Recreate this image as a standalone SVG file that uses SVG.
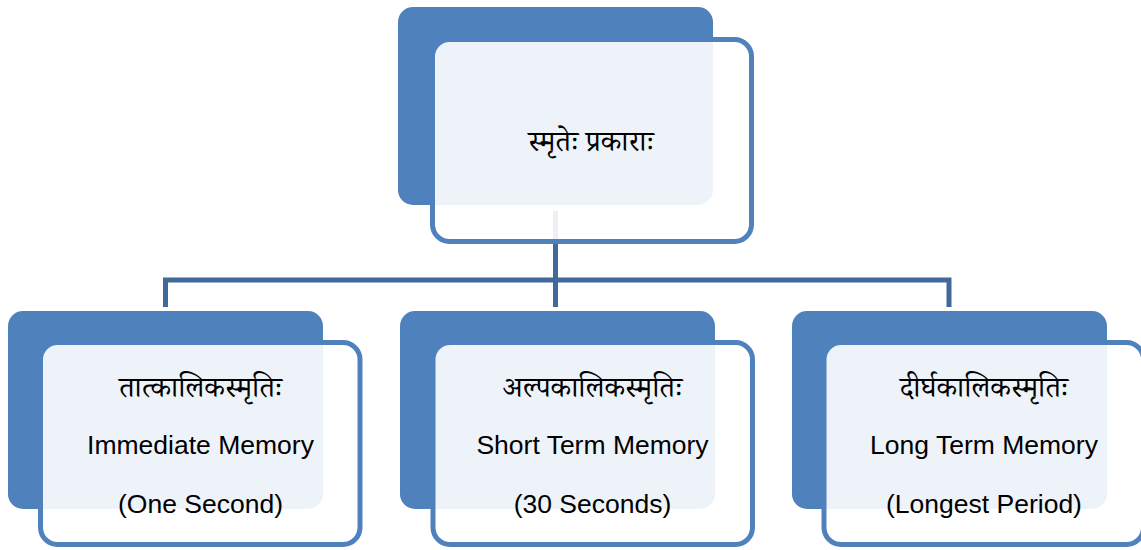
<svg xmlns="http://www.w3.org/2000/svg" width="1141" height="550" viewBox="0 0 1141 550">
  <style>
    .back { fill: #4F81BD; }
    .front { fill: #FFFFFF; fill-opacity: 0.9; stroke: #4F81BD; stroke-width: 5; }
    .conn { fill: none; stroke: #41699A; stroke-width: 5; }
    .dev { font-family: "Noto Serif Devanagari", "Noto Sans Devanagari", "Lohit Devanagari", "Noto Sans", serif; font-size: 29px; fill: #000; text-anchor: middle; }
    .en { font-family: "Liberation Sans", Arial, sans-serif; font-size: 26.5px; fill: #000; text-anchor: middle; }
  </style>
  <rect width="1141" height="550" fill="#FFFFFF"/>
  <g id="connectors">
    <path class="conn" d="M555.5,211 V307"/>
    <path class="conn" d="M165.5,307 V280 H949 V307"/>
  </g>
  <g id="node-root">
    <rect class="back" x="398" y="7" width="315" height="198" rx="15"/>
    <rect class="front" x="432.5" y="39.5" width="319" height="202" rx="17"/>
    <text class="dev" x="591" y="151">स्मृतेः प्रकाराः</text>
  </g>
  <g id="node-immediate">
    <rect class="back" x="8" y="311" width="315" height="198" rx="15"/>
    <rect class="front" x="40.5" y="342.5" width="319.5" height="202" rx="17"/>
    <text class="dev" x="200.5" y="397">तात्कालिकस्मृतिः</text>
    <text class="en" x="200.5" y="454">Immediate Memory</text>
    <text class="en" x="200.5" y="513">(One Second)</text>
  </g>
  <g id="node-short">
    <rect class="back" x="400" y="311" width="315" height="198" rx="15"/>
    <rect class="front" x="433" y="342.5" width="319.5" height="202" rx="17"/>
    <text class="dev" x="592.5" y="397">अल्पकालिकस्मृतिः</text>
    <text class="en" x="592.5" y="454">Short Term Memory</text>
    <text class="en" x="592.5" y="513">(30 Seconds)</text>
  </g>
  <g id="node-long">
    <rect class="back" x="792" y="311" width="315" height="198" rx="15"/>
    <rect class="front" x="824" y="342.5" width="319.5" height="202" rx="17"/>
    <text class="dev" x="984" y="397">दीर्घकालिकस्मृतिः</text>
    <text class="en" x="984" y="454">Long Term Memory</text>
    <text class="en" x="984" y="513">(Longest Period)</text>
  </g>
</svg>
